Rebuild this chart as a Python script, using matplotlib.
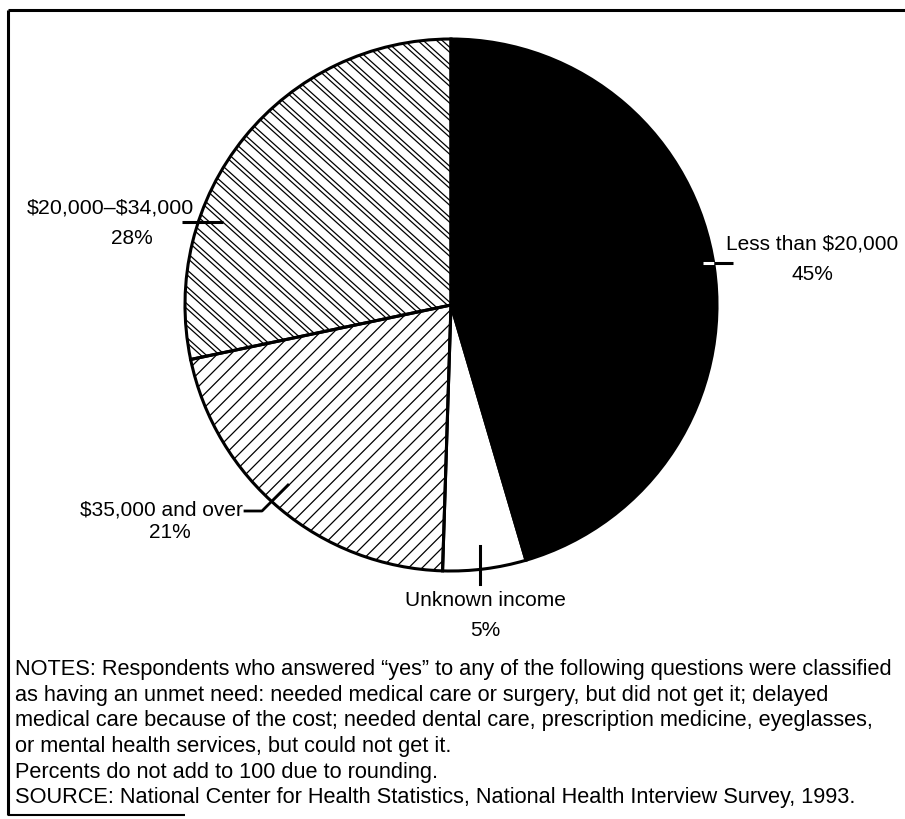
import matplotlib
matplotlib.use("Agg")
import matplotlib.pyplot as plt
from matplotlib.collections import LineCollection
import numpy as np

plt.rcParams['font.family'] = ['Liberation Sans', 'DejaVu Sans']
plt.rcParams['text.parse_math'] = False

# data, clockwise from 12 o'clock
categories = ['Less than $20,000', 'Unknown income', '$35,000 and over', '$20,000\u2013$34,000']
percents = [45, 5, 21, 28]
fills = ['black', 'white', 'white', 'white']

notes = ("NOTES: Respondents who answered \u201cyes\u201d to any of the following questions were classified\n"
         "as having an unmet need: needed medical care or surgery, but did not get it; delayed\n"
         "medical care because of the cost; needed dental care, prescription medicine, eyeglasses,\n"
         "or mental health services, but could not get it.\n"
         "Percents do not add to 100 due to rounding.\n"
         "SOURCE: National Center for Health Statistics, National Health Interview Survey, 1993.")

W, H = 905, 819
fig = plt.figure(figsize=(W / 100, H / 100), dpi=100)
ax = fig.add_axes([0, 0, 1, 1])


def Y(y):
    # image row -> data y
    return H - y


cx, cy, r = 451, Y(305), 266
wedges, _ = ax.pie(percents, colors=fills, startangle=90, counterclock=False,
                   center=(cx, cy), radius=r, frame=True,
                   wedgeprops=dict(edgecolor='black', linewidth=2.2))
ax.set_xlim(0, W)
ax.set_ylim(0, H)
ax.set_aspect('equal')
ax.axis('off')


def hatch_lines(wedge, slope, step, offsets):
    # draw hatching lines y = slope*x + c clipped to the wedge
    segs = []
    x0, x1 = cx - r - 20, cx + r + 20
    span = (abs(slope) + 1) * (r + 40)
    for c in np.arange(cy - slope * cx - span, cy - slope * cx + span, step):
        for off in offsets:
            segs.append([(x0, slope * x0 + c + off), (x1, slope * x1 + c + off)])
    lc = LineCollection(segs, colors='black', linewidths=0.9, zorder=wedge.get_zorder() + 0.1)
    ax.add_collection(lc)
    lc.set_clip_path(wedge)


hatch_lines(wedges[2], 1.0, 13.5, (0,))
hatch_lines(wedges[3], -0.9, 17, (0, 5))
# redraw outlines on top of hatching
for w in wedges:
    w.set_zorder(3)
    w.set_facecolor('none')
for w, fc in zip(wedges, fills):
    ax.add_patch(plt.matplotlib.patches.Wedge((cx, cy), r, w.theta1, w.theta2,
                                              facecolor=fc, edgecolor='none', zorder=0))

# frame lines
ax.plot([8, W], [Y(10), Y(10)], color='black', lw=2.2, solid_capstyle='butt')
ax.plot([8, 8], [Y(10), Y(815)], color='black', lw=2.2, solid_capstyle='butt')
ax.plot([8, 185], [Y(815), Y(815)], color='black', lw=1.5, solid_capstyle='butt')

fs = 15
# Less than $20,000
ax.plot([703, 714], [Y(263), Y(263)], color='white', lw=2.2, solid_capstyle='butt', zorder=5)
ax.plot([714, 733], [Y(263), Y(263)], color='black', lw=2.2, solid_capstyle='butt', zorder=5)
ax.text(812, Y(244), categories[0], ha='center', va='center', fontsize=fs)
ax.text(812, Y(274), f'{percents[0]}%', ha='center', va='center', fontsize=fs)

# Unknown income
ax.plot([480, 480], [Y(546), Y(584)], color='black', lw=2.2, zorder=5)
ax.text(485, Y(601), categories[1], ha='center', va='center', fontsize=fs)
ax.text(485, Y(630), f'{percents[1]}%', ha='center', va='center', fontsize=fs)

# $35,000 and over
ax.plot([245, 262, 288], [Y(511), Y(511), Y(485)], color='black', lw=2.0, zorder=5)
ax.text(243, Y(510), categories[2], ha='right', va='center', fontsize=fs)
ax.text(170, Y(533), f'{percents[2]}%', ha='center', va='center', fontsize=fs)

# $20,000-$34,000
ax.plot([182, 223], [Y(222), Y(222)], color='black', lw=2.2, solid_capstyle='butt', zorder=5)
ax.text(110, Y(208), categories[3], ha='center', va='center', fontsize=15.4)
ax.text(132, Y(239), f'{percents[3]}%', ha='center', va='center', fontsize=fs)

ax.text(15, Y(659), notes, ha='left', va='top', fontsize=15.7, linespacing=1.29)

fig.savefig('out.png', dpi=100)
